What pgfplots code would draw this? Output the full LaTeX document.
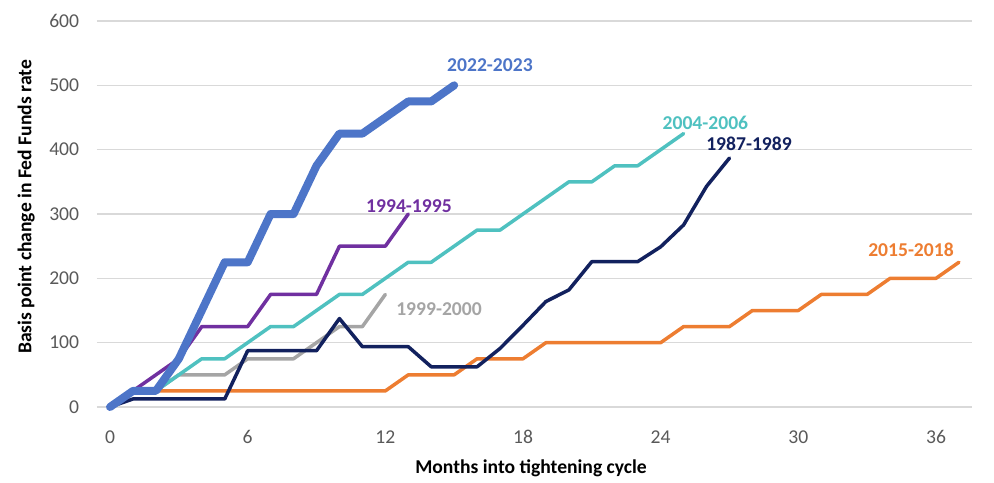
\documentclass[border=0pt]{standalone}
\usepackage{pgfplots}
\pgfplotsset{compat=1.18}
\usepackage{fontspec}
\setmainfont{Carlito}
\definecolor{cBlue}{HTML}{4D75C8}
\definecolor{cPurple}{HTML}{7030A0}
\definecolor{cTeal}{HTML}{4FC1C0}
\definecolor{cGray}{HTML}{A5A5A5}
\definecolor{cNavy}{HTML}{12215E}
\definecolor{cOrange}{HTML}{ED7D31}
\definecolor{cGrid}{HTML}{D9D9D9}
\definecolor{cTick}{HTML}{595959}
\begin{document}
\begin{tikzpicture}
\path[use as bounding box] (0,0) rectangle (497pt,241pt);
\begin{axis}[
  at={(48.5pt,37.5pt)}, anchor=south west,
  scale only axis, width=437.5pt, height=193pt,
  xmin=-0.567, xmax=37.57, ymin=0, ymax=600,
  xtick={0,6,12,18,24,30,36},
  ytick={0,100,200,300,400,500,600},
  axis line style={draw=none},
  major tick length=0pt,
  ymajorgrids, grid style={cGrid, line width=0.6pt},
  /pgf/number format/assume math mode=true,
  tick label style={font=\fontsize{9.8}{11.8}\selectfont, text=cTick, inner sep=0pt},
  yticklabel style={anchor=east, xshift=-8.75pt},
  xticklabel style={anchor=center, yshift=-15pt},
  clip=false,
  every axis plot/.append style={line join=round, line cap=round, no markers, line width=1.75pt},
  label style={font=\bfseries\fontsize{9.8}{11.8}\selectfont, text=black},
  xlabel={Months into tightening cycle},
  xlabel style={at={(axis description cs:0.496,-0.158)}, anchor=center, inner sep=0pt},
  ylabel={Basis point change in Fed Funds rate},
  ylabel style={at={(axis description cs:-0.0811,0.518)}, anchor=center, rotate=0, inner sep=0pt},
]
% 2015-2018
\addplot[cOrange] coordinates {(0,0)(1,25)(2,25)(3,25)(4,25)(5,25)(6,25)(7,25)(8,25)(9,25)(10,25)(11,25)(12,25)(13,50)(14,50)(15,50)(16,75)(17,75)(18,75)(19,100)(20,100)(21,100)(22,100)(23,100)(24,100)(25,125)(26,125)(27,125)(28,150)(29,150)(30,150)(31,175)(32,175)(33,175)(34,200)(35,200)(36,200)(37,225)};
% 1999-2000
\addplot[cGray] coordinates {(0,0)(1,25)(2,25)(3,50)(4,50)(5,50)(6,75)(7,75)(8,75)(9,100)(10,125)(11,125)(12,175)};
% 2004-2006
\addplot[cTeal] coordinates {(0,0)(1,25)(2,25)(3,50)(4,75)(5,75)(6,100)(7,125)(8,125)(9,150)(10,175)(11,175)(12,200)(13,225)(14,225)(15,250)(16,275)(17,275)(18,300)(19,325)(20,350)(21,350)(22,375)(23,375)(24,400)(25,425)};
% 1987-1989
\addplot[cNavy] coordinates {(0,0)(1,12.5)(2,12.5)(3,12.5)(4,12.5)(5,12.5)(6,87.5)(7,87.5)(8,87.5)(9,87.5)(10,137.5)(11,93.75)(12,93.75)(13,93.75)(14,62.5)(15,62.5)(16,62.5)(17,91)(18,127)(19,164)(20,182)(21,226)(22,226)(23,226)(24,249)(25,283)(26,343)(27,387)};
% 1994-1995
\addplot[cPurple] coordinates {(0,0)(1,25)(2,50)(3,75)(4,125)(5,125)(6,125)(7,175)(8,175)(9,175)(10,250)(11,250)(12,250)(13,300)};
% 2022-2023
\addplot[cBlue, line width=4pt] coordinates {(0,0)(1,25)(2,25)(3,75)(4,150)(5,225)(6,225)(7,300)(8,300)(9,375)(10,425)(11,425)(12,450)(13,475)(14,475)(15,500)};
\begin{scope}[every node/.style={font=\bfseries\fontsize{9.8}{11.8}\selectfont, inner sep=0pt, anchor=center}]
\node[text=cBlue] at (axis cs:16.56,531.6) {2022-2023};
\node[text=cPurple] at (axis cs:13.03,312.4) {1994-1995};
\node[text=cGray] at (axis cs:14.34,152.3) {1999-2000};
\node[text=cTeal] at (axis cs:25.95,441.5) {2004-2006};
\node[text=cNavy] at (axis cs:27.85,408.8) {1987-1989};
\node[text=cOrange] at (axis cs:34.91,244) {2015-2018};
\end{scope}
\end{axis}
\end{tikzpicture}
\end{document}
